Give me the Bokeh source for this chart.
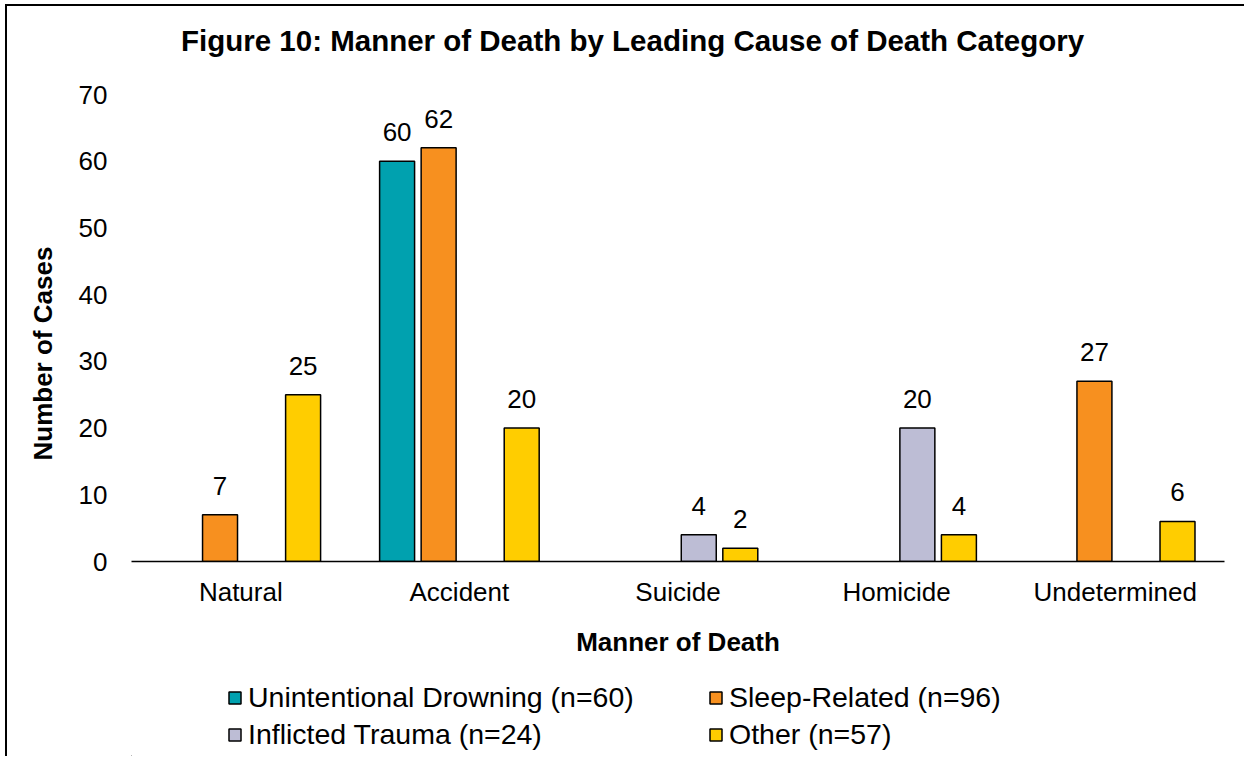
from bokeh.plotting import figure
from bokeh.layouts import column
from bokeh.models import (ColumnDataSource, FactorRange, Range1d, FixedTicker, Legend,
                          LegendItem, Title, Div)
from bokeh.transform import dodge
from bokeh.embed import file_html
from bokeh.resources import INLINE
from bokeh.core.properties import value

categories = ["Natural", "Accident", "Suicide", "Homicide", "Undetermined"]
drowning = [0, 60, 0, 0, 0]
sleep = [7, 62, 0, 0, 27]
trauma = [0, 0, 4, 20, 0]
other = [25, 20, 2, 4, 6]
series_names = ["Unintentional Drowning (n=60)", "Sleep-Related (n=96)",
                "Inflicted Trauma (n=24)", "Other (n=57)"]
colors = ["#00A1AF", "#F7901F", "#BDBDD5", "#FFCD00"]
y_ticks = [0, 10, 20, 30, 40, 50, 60, 70]
title_text = "Figure 10: Manner of Death by Leading Cause of Death Category"

FONT = "Liberation Sans"

# title as a text block above the chart
tdiv = Div(text=('<div style="padding-left:174px; padding-top:18px; white-space:nowrap; '
                 'font-family:\'Liberation Sans\', Arial, sans-serif; font-size:29.5px; '
                 'font-weight:bold; color:black; line-height:normal">' + title_text + '</div>'),
           width=1237, height=55, margin=0)

p = figure(x_range=FactorRange(*categories), y_range=Range1d(0, 70), title=None,
           frame_width=1093, frame_height=467,
           min_border_left=124, min_border_right=20, min_border_top=33, min_border_bottom=105,
           output_backend="svg", toolbar_location=None)
p.outline_line_color = None
p.xgrid.grid_line_color = None
p.ygrid.grid_line_color = None
p.background_fill_color = "white"
p.border_fill_color = "white"

offsets = [-0.285, -0.095, 0.095, 0.285]
for vals, col, off in zip([drowning, sleep, trauma, other], colors, offsets):
    cx = [c for c, v in zip(categories, vals) if v > 0]
    cy = [v for v in vals if v > 0]
    src = ColumnDataSource(dict(x=cx, top=cy, lab=[str(v) for v in cy]))
    p.vbar(x=dodge("x", off, range=p.x_range), top="top", width=0.16, source=src,
           fill_color=col, line_color="black", line_width=1.5)
    p.text(x=dodge("x", off, range=p.x_range), y="top", text="lab", source=src,
           text_align="center", text_baseline="alphabetic", y_offset=-29,
           text_font=value(FONT), text_font_size="26px", text_color="black")

# y axis
p.yaxis.ticker = FixedTicker(ticks=y_ticks)
p.yaxis.axis_line_color = None
p.yaxis.major_tick_line_color = None
p.yaxis.major_tick_out = 0
p.yaxis.minor_tick_line_color = None
p.yaxis.minor_tick_out = 0
p.yaxis.major_label_standoff = 24
p.yaxis.major_label_text_font = FONT
p.yaxis.major_label_text_font_size = "26px"
p.yaxis.major_label_text_color = "black"

ytitle = Title(text="Number of Cases", align="left", offset=101, standoff=35,
               text_font=FONT, text_font_size="26px", text_font_style="bold",
               text_color="black")
p.add_layout(ytitle, "left")

# x axis
p.xaxis.axis_line_color = "black"
p.xaxis.axis_line_width = 1.5
p.xaxis.major_tick_line_color = None
p.xaxis.major_tick_out = 0
p.xaxis.minor_tick_line_color = None
p.xaxis.minor_tick_out = 0
p.xaxis.major_label_standoff = 15
p.xaxis.major_label_text_font = FONT
p.xaxis.major_label_text_font_size = "26px"
p.xaxis.major_label_text_color = "black"
p.xaxis.axis_label = "Manner of Death"
p.xaxis.axis_label_standoff = 17
p.xaxis.axis_label_text_font = FONT
p.xaxis.axis_label_text_font_size = "26px"
p.xaxis.axis_label_text_font_style = "bold"
p.xaxis.axis_label_text_color = "black"

# legend figure (below the chart)
lf = figure(width=1237, height=90, x_range=Range1d(0, 1), y_range=Range1d(0, 1),
            min_border=0, x_axis_type=None, y_axis_type=None, title=None,
            output_backend="svg", toolbar_location=None)
lf.outline_line_color = None
lf.xgrid.grid_line_color = None
lf.ygrid.grid_line_color = None
items = []
for name, col in zip(series_names, colors):
    # off-range stand-in renderer: only its style is used, for the legend swatch
    r = lf.vbar(x=[-5], bottom=[-6], top=[-5], width=0.1, fill_color=col,
                line_color="black", line_width=1.5)
    items.append(LegendItem(label=name, renderers=[r]))
legend = Legend(items=items, ncols=2, location=(96, 5), orientation="horizontal",
                glyph_width=15, glyph_height=15, label_standoff=6, label_width=456,
                spacing=4, padding=0, margin=0,
                label_text_font=FONT, label_text_font_size="28.5px", label_text_color="black",
                border_line_color=None, background_fill_alpha=0)
lf.add_layout(legend, "center")

layout = column(tdiv, p, lf, spacing=0,
                styles={"border-left": "2px solid black", "border-top": "2px solid black",
                        "margin-left": "5px", "margin-top": "4px"})

open("out.html", "w").write(file_html(layout, INLINE))
